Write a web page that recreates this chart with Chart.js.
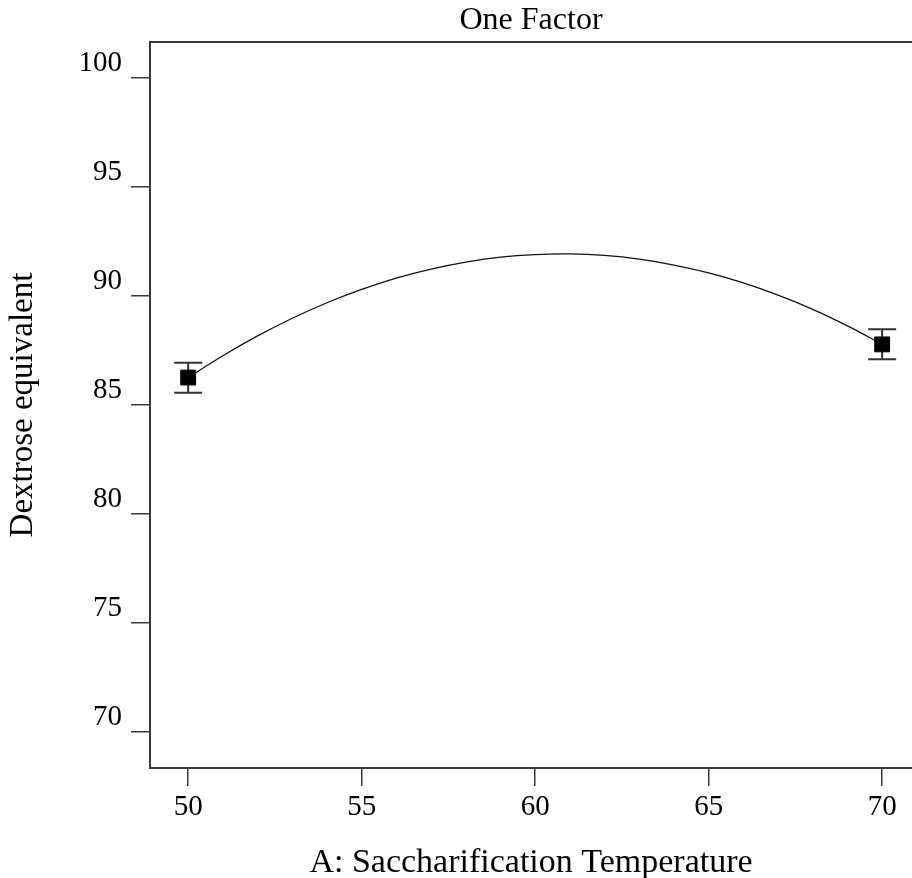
<!DOCTYPE html>
<html>
<head>
<meta charset="utf-8">
<script src="https://cdn.jsdelivr.net/npm/chart.js@4.4.1/dist/chart.umd.min.js"></script>
<style>
    body { margin: 0; background: #fff; }
    #wrap { width: 912px; height: 878px; }
</style>
</head>
<body>
<div id="wrap"><canvas id="factorChart" width="912" height="878"></canvas></div>
<script>
// Fitted model curve (temperature vs DE)
const curveX = [50, 51, 52, 53, 54, 55, 56, 57, 58, 59, 60, 61, 62, 63, 64, 65, 66, 67, 68, 69, 70];
const curveY = [86.26, 87.26, 88.17, 88.98, 89.69, 90.30, 90.82, 91.23, 91.55, 91.78, 91.90,
                91.93, 91.86, 91.69, 91.42, 91.06, 90.60, 90.04, 89.39, 88.63, 87.78];

// Design points with their error bars
const obsX = [50, 70];
const obsY = [86.26, 87.78];
const errLow = [85.56, 87.10];
const errHigh = [86.94, 88.47];

const xTicks = [50, 55, 60, 65, 70];
const yTicks = [70, 75, 80, 85, 90, 95, 100];

const serif = 'Liberation Serif';
const axisColor = '#3a3a3a';

// Vertical error bars with caps, drawn under the square markers
const errorBars = {
    id: 'errorBars',
    beforeDatasetsDraw(chart) {
        const { ctx, scales: { x, y } } = chart;
        ctx.save();
        ctx.strokeStyle = '#333';
        ctx.lineWidth = 2;
        obsX.forEach((v, i) => {
            const px = x.getPixelForValue(v);
            const lo = y.getPixelForValue(errLow[i]);
            const hi = y.getPixelForValue(errHigh[i]);
            ctx.beginPath();
            ctx.moveTo(px, lo);
            ctx.lineTo(px, hi);
            ctx.moveTo(px - 14, lo);
            ctx.lineTo(px + 14, lo);
            ctx.moveTo(px - 14, hi);
            ctx.lineTo(px + 14, hi);
            ctx.stroke();
        });
        ctx.restore();
    }
};

// Top edge of the plot box
const topBorder = {
    id: 'topBorder',
    afterDraw(chart) {
        const { ctx, chartArea } = chart;
        ctx.save();
        ctx.strokeStyle = axisColor;
        ctx.lineWidth = 2;
        ctx.beginPath();
        ctx.moveTo(chartArea.left, chartArea.top);
        ctx.lineTo(chartArea.right, chartArea.top);
        ctx.stroke();
        ctx.restore();
    }
};

new Chart(document.getElementById('factorChart'), {
    type: 'scatter',
    data: {
        datasets: [{
            label: 'Model',
            data: curveX.map((v, i) => ({ x: v, y: curveY[i] })),
            showLine: true,
            borderColor: '#111',
            borderWidth: 1.3,
            pointRadius: 0,
            tension: 0.4,
            order: 2
        }, {
            label: 'Design points',
            data: obsX.map((v, i) => ({ x: v, y: obsY[i] })),
            pointStyle: 'rect',
            pointRadius: 10.5,
            backgroundColor: '#000',
            borderColor: '#000',
            borderWidth: 1,
            order: 1
        }]
    },
    options: {
        responsive: false,
        animation: false,
        layout: { padding: 0, autoPadding: false },
        plugins: {
            legend: { display: false },
            tooltip: { enabled: false },
            title: {
                display: true,
                fullSize: false,
                text: 'One Factor',
                color: '#000',
                font: { family: serif, size: 32, weight: 'normal' },
                padding: { top: 1, bottom: 2.6 }
            }
        },
        scales: {
            x: {
                type: 'linear',
                min: 48.9,
                max: 70.86,
                afterBuildTicks: scale => { scale.ticks = xTicks.map(v => ({ value: v })); },
                afterFit: scale => {
                    scale.height = 110;
                    scale.paddingLeft = 0;
                    scale.paddingRight = 0;
                },
                ticks: {
                    color: '#000',
                    padding: 4,
                    font: { family: serif, size: 29 }
                },
                grid: { drawOnChartArea: false, drawTicks: true, tickLength: 18, color: axisColor, lineWidth: 1.5 },
                border: { display: true, color: axisColor, width: 2 },
                title: {
                    display: true,
                    text: 'A: Saccharification Temperature',
                    color: '#000',
                    font: { family: serif, size: 34, lineHeight: 0.9 },
                    padding: 0
                }
            },
            y: {
                min: 68.35,
                max: 101.65,
                afterBuildTicks: scale => { scale.ticks = yTicks.map(v => ({ value: v })); },
                afterFit: scale => {
                    scale.width = 150;
                    scale.paddingTop = 0;
                    scale.paddingBottom = 0;
                },
                ticks: {
                    color: '#000',
                    padding: 9,
                    labelOffset: -15,
                    font: { family: serif, size: 29 }
                },
                grid: { drawOnChartArea: false, drawTicks: true, tickLength: 19, color: axisColor, lineWidth: 1.5 },
                border: { display: true, color: axisColor, width: 2 },
                title: {
                    display: true,
                    text: 'Dextrose equivalent',
                    color: '#000',
                    font: { family: serif, size: 33 },
                    padding: { top: 4, bottom: 0 }
                }
            }
        }
    },
    plugins: [errorBars, topBorder]
});
</script>
</body>
</html>
